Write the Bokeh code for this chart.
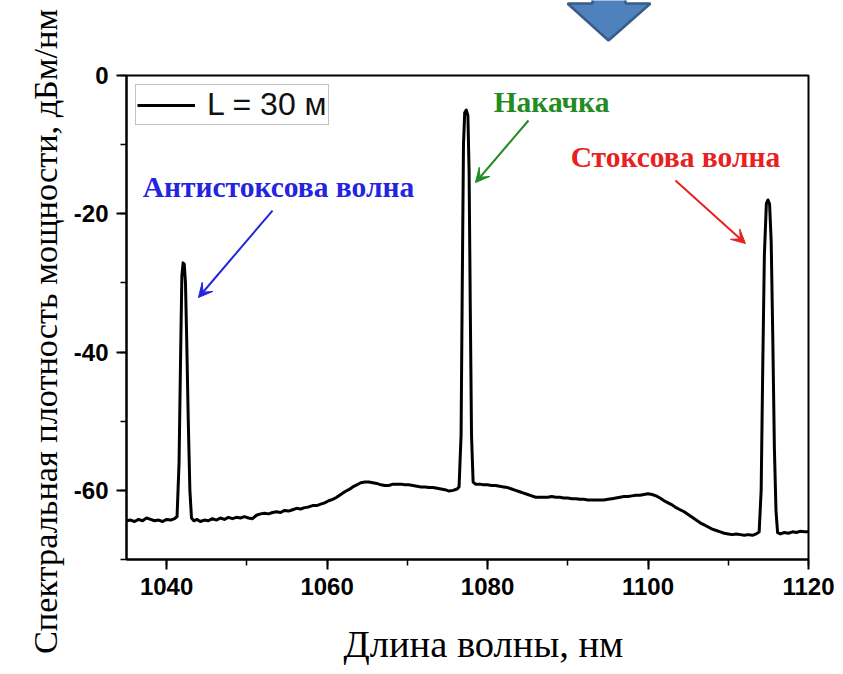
import math
from bokeh.plotting import figure
from bokeh.models import (Range1d, SingleIntervalTicker, Label, Arrow, VeeHead)
from bokeh.layouts import column, row
from bokeh.embed import file_html
from bokeh.resources import INLINE

# ---- data ----
wavelength = [
    1035.0, 1035.5, 1036.0, 1036.5, 1037.0, 1037.5, 1038.0, 1038.5, 1039.0, 1039.5,
    1040.0, 1040.5, 1041.0, 1041.3, 1041.55, 1041.75, 1041.9, 1042.05, 1042.2, 1042.35,
    1042.5, 1042.7, 1042.9, 1043.1, 1043.4, 1043.8, 1044.2, 1044.7, 1045.2, 1045.7,
    1046.2, 1046.7, 1047.2, 1047.7, 1048.2, 1048.7, 1049.2, 1049.7, 1050.2, 1050.7,
    1051.2, 1051.7, 1052.2, 1052.7, 1053.2, 1053.7, 1054.2, 1054.7, 1055.2, 1055.7,
    1056.2, 1056.7, 1057.2, 1057.7, 1058.2, 1058.7, 1059.2, 1059.7, 1060.2, 1060.7,
    1061.2, 1061.7, 1062.2, 1062.7, 1063.2, 1063.7, 1064.2, 1064.7, 1065.2, 1065.7,
    1066.2, 1066.7, 1067.2, 1067.7, 1068.2, 1068.7, 1069.2, 1069.7, 1070.2, 1070.7,
    1071.2, 1071.7, 1072.2, 1072.7, 1073.2, 1073.7, 1074.2, 1074.7, 1075.2, 1075.7,
    1076.2, 1076.45, 1076.7, 1076.85, 1077.0, 1077.15, 1077.35, 1077.55, 1077.7, 1077.85,
    1078.0, 1078.2, 1078.5, 1079.0, 1079.5, 1080.0, 1080.5, 1081.0, 1081.5, 1082.0,
    1082.5, 1083.0, 1083.5, 1084.0, 1084.5, 1085.0, 1085.5, 1086.0, 1086.5, 1087.0,
    1087.5, 1088.0, 1088.5, 1089.0, 1089.5, 1090.0, 1090.5, 1091.0, 1091.5, 1092.0,
    1092.5, 1093.0, 1093.5, 1094.0, 1094.5, 1095.0, 1095.5, 1096.0, 1096.5, 1097.0,
    1097.5, 1098.0, 1098.5, 1099.0, 1099.5, 1100.0, 1100.5, 1101.0, 1101.5, 1102.0,
    1102.5, 1103.0, 1103.5, 1104.0, 1104.5, 1105.0, 1105.5, 1106.0, 1106.5, 1107.0,
    1107.5, 1108.0, 1108.5, 1109.0, 1109.5, 1110.0, 1110.5, 1111.0, 1111.5, 1112.0,
    1112.5, 1113.0, 1113.5, 1113.85, 1114.1, 1114.3, 1114.5, 1114.75, 1114.95, 1115.15,
    1115.35, 1115.55, 1115.75, 1115.95, 1116.15, 1116.5, 1117.0, 1117.5, 1118.0, 1118.5,
    1119.0, 1119.5, 1120.0,
]
power_dbm = [
    -64.4, -64.3, -64.5, -64.2, -64.4, -64.0, -64.2, -64.4, -64.3, -64.5,
    -64.2, -64.3, -64.1, -63.8, -56.0, -40.0, -29.0, -27.1, -27.3, -30.0,
    -38.0, -50.0, -60.0, -64.0, -64.4, -64.2, -64.5, -64.3, -64.4, -64.1,
    -64.3, -64.0, -64.2, -63.9, -64.1, -63.9, -64.0, -63.8, -64.0, -64.1,
    -63.6, -63.4, -63.3, -63.4, -63.2, -63.1, -63.2, -62.9, -63.0, -62.8,
    -62.6, -62.7, -62.5, -62.4, -62.2, -62.2, -62.0, -61.8, -61.5, -61.3,
    -61.0, -60.6, -60.2, -59.9, -59.5, -59.2, -58.9, -58.8, -58.8, -58.9,
    -59.0, -59.2, -59.3, -59.3, -59.1, -59.1, -59.1, -59.2, -59.2, -59.3,
    -59.4, -59.5, -59.5, -59.6, -59.6, -59.7, -59.8, -59.9, -60.1, -60.0,
    -59.8, -59.5, -52.0, -30.0, -10.0, -5.4, -5.0, -5.8, -14.0, -34.0,
    -52.0, -58.8, -59.1, -59.1, -59.2, -59.2, -59.3, -59.3, -59.4, -59.5,
    -59.6, -59.8, -60.0, -60.2, -60.4, -60.6, -60.8, -61.0, -61.0, -61.0,
    -61.0, -60.9, -61.0, -61.0, -61.1, -61.1, -61.2, -61.2, -61.3, -61.3,
    -61.4, -61.4, -61.4, -61.4, -61.4, -61.3, -61.2, -61.1, -61.0, -60.9,
    -60.9, -60.8, -60.7, -60.7, -60.6, -60.5, -60.6, -60.8, -61.1, -61.5,
    -61.8, -62.1, -62.5, -62.8, -63.1, -63.5, -63.9, -64.3, -64.7, -65.0,
    -65.3, -65.6, -65.8, -66.0, -66.2, -66.3, -66.4, -66.3, -66.4, -66.5,
    -66.4, -66.5, -66.3, -66.0, -60.0, -42.0, -26.0, -18.5, -18.0, -18.6,
    -24.0, -38.0, -54.0, -63.0, -66.1, -66.3, -66.1, -66.2, -66.0, -66.1,
    -65.9, -66.0, -66.0,
]
y_tick_values = [0, -20, -40, -60]
y_tick_labels = ["0", "-20", "-40", "-60"]
series_label = "L = 30 м"
x_title = "Длина волны, нм"
y_title = "Спектральная плотность мощности, дБм/нм"
notes = ["Антистоксова волна", "Накачка", "Стоксова волна"]
note_colors = ["#2424E0", "#228B22", "#E82020"]

# ---- page geometry (pixels) ----
PAGE_H = 666
YLAB_W = 68
COL_W = 835 - YLAB_W
TOP_H = 45
XLAB_H = 56
FRAME_L, FRAME_R = 126, 808


def strip(w, h, xr, yr):
    f = figure(width=w, height=h, output_backend="svg", toolbar_location=None,
               x_range=Range1d(*xr), y_range=Range1d(*yr),
               x_axis_location=None, y_axis_location=None,
               min_border_left=0, min_border_right=0,
               min_border_top=0, min_border_bottom=0)
    f.grid.visible = False
    f.outline_line_color = None
    return f


# ---- y-axis title strip ----
ylab = strip(YLAB_W, PAGE_H, (0, YLAB_W), (PAGE_H, 0))
ylab.add_layout(Label(x=44, y=331, text=y_title, angle=math.pi / 2,
                      text_align="center", text_baseline="alphabetic",
                      text_font="Liberation Serif", text_font_size="34.3px",
                      text_color="black"))

# ---- decorative block arrow strip above the chart ----
blk_x = [592, 625, 625, 650, 608, 567, 592]
blk_y = [-6, -6, 3, 3, 40, 3, 3]
top = strip(COL_W, TOP_H, (FRAME_L, FRAME_R), (TOP_H, 0))
top.patch(blk_x, blk_y, fill_color="#4F81BD", line_color="#385D8A", line_width=2.5)

# ---- x-axis title strip ----
xlab = strip(COL_W, XLAB_H, (FRAME_L, FRAME_R), (PAGE_H, PAGE_H - XLAB_H))
xlab.add_layout(Label(x=483, y=643, text=x_title, text_align="center",
                      text_baseline="alphabetic", text_font="Liberation Serif",
                      text_font_size="38.5px", text_color="black"))

# ---- main figure ----
p = figure(width=COL_W, height=PAGE_H - TOP_H - XLAB_H, output_backend="svg",
           toolbar_location=None,
           x_range=Range1d(1035, 1120), y_range=Range1d(-70, 0),
           min_border_left=FRAME_L - YLAB_W, min_border_right=835 - FRAME_R,
           min_border_top=75 - TOP_H, min_border_bottom=PAGE_H - XLAB_H - 559)
p.grid.visible = False
p.background_fill_color = "white"
p.border_fill_color = "white"
p.outline_line_color = "black"
p.outline_line_width = 2
p.outline_line_alpha = 1.0

p.xaxis.ticker = SingleIntervalTicker(interval=20, num_minor_ticks=2)
p.yaxis.ticker = SingleIntervalTicker(interval=20, num_minor_ticks=2)
p.yaxis.major_label_overrides = dict(zip(y_tick_values, y_tick_labels))
for ax in (p.xaxis, p.yaxis):
    ax.axis_line_width = 2
    ax.axis_line_color = "black"
    ax.major_tick_line_width = 2
    ax.minor_tick_line_width = 1.5
    ax.major_tick_out = 10
    ax.major_tick_in = 0
    ax.minor_tick_out = 6
    ax.minor_tick_in = 0
    ax.major_label_text_font = "Liberation Sans"
    ax.major_label_text_font_style = "bold"
    ax.major_label_text_font_size = "24px"
    ax.major_label_text_color = "black"
    ax.major_label_standoff = 8

p.line(wavelength, power_dbm, line_width=3, line_color="black",
       line_join="round", legend_label=series_label)

lg = p.legend[0]
lg.location = "top_left"
lg.margin = 9
lg.padding = 1
lg.spacing = 0
lg.glyph_width = 58
lg.glyph_height = 26
lg.label_height = 26
lg.label_standoff = 12
lg.label_text_font = "Liberation Sans"
lg.label_text_font_size = "32px"
lg.label_text_line_height = 1.0
lg.label_text_color = "#111111"
lg.border_line_color = "#888888"
lg.border_line_width = 1
lg.background_fill_alpha = 1.0

# ---- annotations ----
note_pos = [(1053.94, -16.15), (1087.97, -3.85), (1103.42, -11.81)]
arrow_pos = [((1053.2, -19.53), (1043.97, -32.11)),
             ((1085.1, -6.51), (1078.49, -15.48)),
             ((1103.42, -15.19), (1112.14, -24.3))]
for txt, col, (tx, ty), ((x0, y0), (x1, y1)) in zip(notes, note_colors, note_pos, arrow_pos):
    p.add_layout(Label(x=tx, y=ty, text=txt, text_align="center",
                       text_baseline="alphabetic", text_font="Liberation Serif",
                       text_font_style="bold", text_font_size="29.5px",
                       text_color=col))
    p.add_layout(Arrow(x_start=x0, y_start=y0, x_end=x1, y_end=y1,
                       line_color=col, line_width=2,
                       end=VeeHead(size=14, fill_color=col, line_color=col,
                                   line_width=1)))

layout = row(ylab, column(top, p, xlab, spacing=0), spacing=0)
open("out.html", "w").write(file_html(layout, INLINE))
